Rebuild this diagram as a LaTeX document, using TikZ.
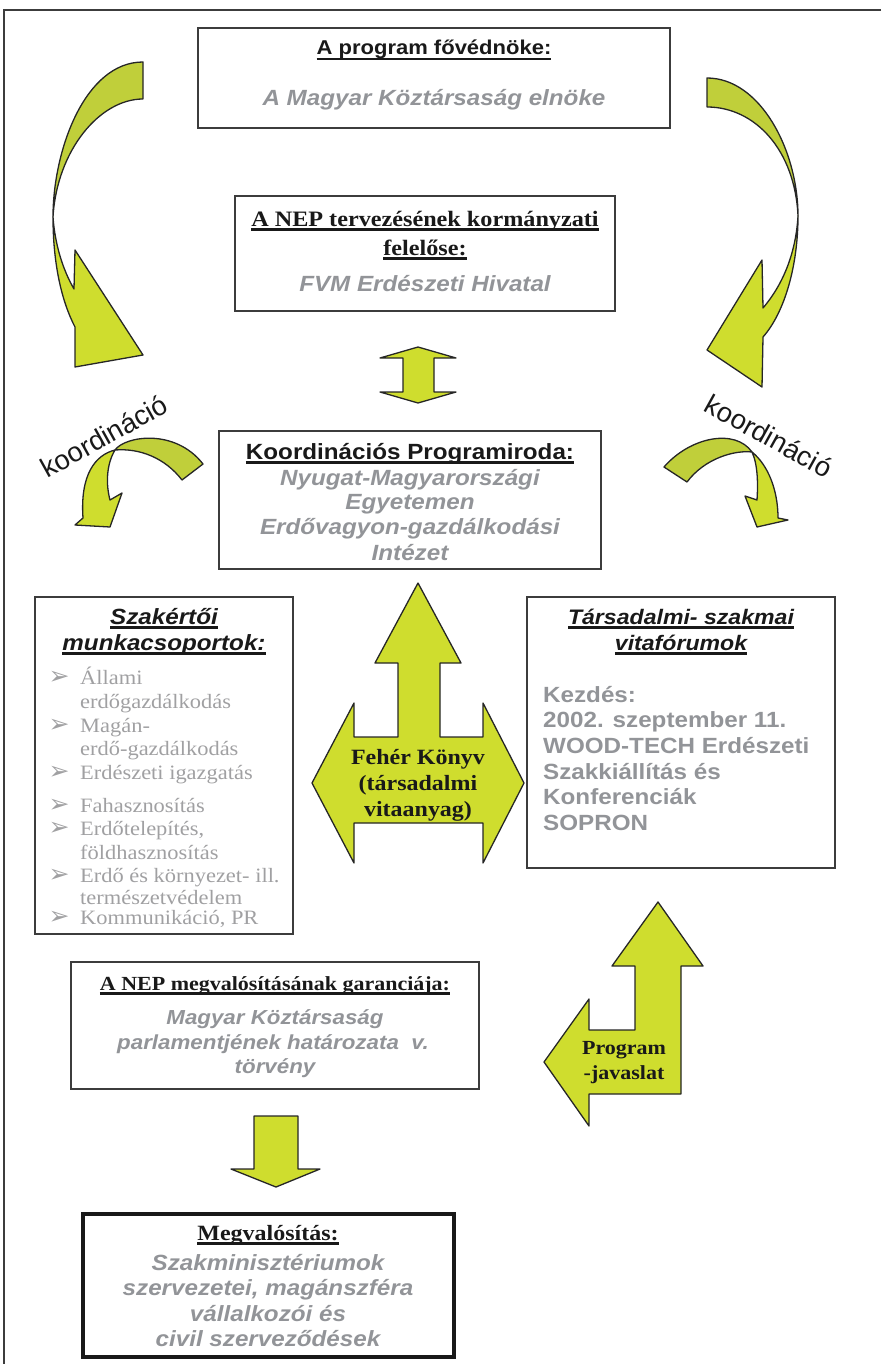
\documentclass[tikz,border=0pt]{standalone}
\usepackage{fontspec}
\setmainfont[FakeStretch=1.1]{Liberation Serif}
\setsansfont[FakeStretch=1.1]{Liberation Sans}
\newfontfamily\dejavu{DejaVu Sans}
\newfontfamily\arialplain{Liberation Sans}
\definecolor{txtgrey}{RGB}{146,148,152}
\definecolor{lstgrey}{RGB}{160,160,162}
\definecolor{boxgrey}{RGB}{60,60,60}
\definecolor{arrlight}{RGB}{207,221,46}
\definecolor{arrdark}{RGB}{192,207,58}
\newcommand{\fsz}[1]{\fontsize{#1}{#1}\selectfont}
\newsavebox{\ulbox}
\newcommand{\myul}[2][2.8pt]{\sbox{\ulbox}{#2}\rlap{\rule[-5pt]{\wd\ulbox}{#1}}\usebox{\ulbox}}
\tikzset{
  box/.style={draw=boxgrey, line width=1.5pt, inner sep=0pt},
  arr/.style={fill=arrlight, draw=black!85, line width=1.3pt, line join=round},
  arrd/.style={fill=arrdark, draw=black!85, line width=1.3pt, line join=round},
  txt/.style={inner sep=0pt, anchor=base},
  sanstitle/.style={txt, text=black!90, font=\sffamily\bfseries\fsz{22}},
  sansital/.style={txt, text=black!90, font=\sffamily\bfseries\itshape\fsz{22}},
  seriftitle/.style={txt, text=black!90, font=\rmfamily\bfseries\fsz{22}},
  greytxt/.style={txt, text=txtgrey, font=\sffamily\bfseries\itshape\fsz{22}},
  lst/.style={inner sep=0pt, anchor=base west, text=lstgrey, font=\rmfamily\fsz{20.4}},
  bul/.style={inner sep=0pt, anchor=base, text=lstgrey, font=\dejavu\fsz{25}},
  kez/.style={inner sep=0pt, anchor=base west, text=txtgrey, font=\sffamily\bfseries\fsz{22}},
  koord/.style={inner sep=0pt, text=black!90, font=\arialplain\fsz{27.5}},
}
\begin{document}
\begin{tikzpicture}[x=1pt,y=-1pt]
\useasboundingbox (0,0) rectangle (881,1364);
\draw[boxgrey, line width=1.4pt] (881,10) -- (4,10) -- (4,1364);

% ---------- boxes ----------
\node[box, minimum width=472pt, minimum height=100pt] (b1) at (434,78) {};
\node[box, minimum width=380pt, minimum height=115pt] (b2) at (425,253.5) {};
\node[box, minimum width=382pt, minimum height=138pt] (b3) at (410,500) {};
\node[box, minimum width=258pt, minimum height=337pt] (b4) at (164,765.5) {};
\node[box, minimum width=308pt, minimum height=271pt] (b5) at (681,732.5) {};
\node[box, minimum width=408pt, minimum height=127pt] (b6) at (275,1025.5) {};
\node[draw=black!90, line width=4pt, inner sep=0pt, minimum width=371pt, minimum height=143pt] (b7) at (268.5,1285.5) {};

% ---------- box 1 ----------
\node[sanstitle, font=\sffamily\bfseries\fsz{20}] (t1a) at (434,55) {\myul[2.4pt]{A program fővédnöke:}};
\node[greytxt] (t1b) at (434,106) {A Magyar Köztársaság elnöke};

% ---------- box 2 ----------
\node[seriftitle] (t2a) at (425,226) {\myul{A NEP tervezésének kormányzati}};
\node[seriftitle] (t2b) at (425,255) {\myul{felelőse:}};
\node[greytxt] (t2c) at (425,291) {FVM Erdészeti Hivatal};

% ---------- box 3 ----------
\node[sanstitle] (t3a) at (410,459) {\myul{Koordinációs Programiroda:}};
\node[greytxt] (t3b) at (410,485) {Nyugat-Magyarországi};
\node[greytxt] (t3c) at (410,509) {Egyetemen};
\node[greytxt] (t3d) at (410,534) {Erdővagyon-gazdálkodási};
\node[greytxt] (t3e) at (410,560) {Intézet};

% ---------- box 4 ----------
\node[sansital] (t4a) at (164,624) {\myul{Szakértői}};
\node[sansital] (t4b) at (164,650) {\myul{munkacsoportok:}};
\node[bul] (u1) at (59,684) {➢};
\node[lst] (l1) at (80,684) {Állami};
\node[lst] (l2) at (80,708) {erdőgazdálkodás};
\node[bul] (u2) at (59,732) {➢};
\node[lst] (l3) at (80,732) {Magán-};
\node[lst] (l4) at (80,755) {erdő-gazdálkodás};
\node[bul] (u3) at (59,779) {➢};
\node[lst] (l5) at (80,779) {Erdészeti igazgatás};
\node[bul] (u4) at (59,812) {➢};
\node[lst] (l6) at (80,812) {Fahasznosítás};
\node[bul] (u5) at (59,835) {➢};
\node[lst] (l7) at (80,835) {Erdőtelepítés,};
\node[lst] (l8) at (80,859) {földhasznosítás};
\node[bul] (u6) at (59,882) {➢};
\node[lst] (l9) at (80,882) {Erdő és környezet- ill.};
\node[lst] (l10) at (80,904) {természetvédelem};
\node[bul] (u7) at (59,924) {➢};
\node[lst] (l11) at (80,924) {Kommunikáció, PR};

% ---------- box 5 ----------
\node[sansital, font=\sffamily\bfseries\itshape\fsz{21}] (t5a) at (681,624) {\myul{Társadalmi- szakmai}};
\node[sansital, font=\sffamily\bfseries\itshape\fsz{21}] (t5b) at (681,650) {\myul{vitafórumok}};
\node[kez] (k1) at (543,702) {Kezdés:};
\node[kez] (k2) at (543,727.7) {2002. szeptember 11.};
\node[kez] (k3) at (543,753.4) {WOOD-TECH Erdészeti};
\node[kez] (k4) at (543,779.1) {Szakkiállítás és};
\node[kez] (k5) at (543,804.8) {Konferenciák};
\node[kez] (k6) at (543,830.5) {SOPRON};

% ---------- box 6 ----------
\node[seriftitle, font=\rmfamily\bfseries\fsz{20}] (t6a) at (275,990) {\myul[3pt]{A NEP megvalósításának garanciája:}};
\node[greytxt, font=\sffamily\bfseries\itshape\fsz{20.3}] (t6b) at (275,1024) {Magyar Köztársaság};
\node[greytxt, font=\sffamily\bfseries\itshape\fsz{20.3}] (t6c) at (273,1049) {parlamentjének határozata\ \ v.};
\node[greytxt, font=\sffamily\bfseries\itshape\fsz{20.3}] (t6d) at (275,1073) {törvény};

% ---------- box 7 ----------
\node[seriftitle, font=\rmfamily\bfseries\fsz{21.8}] (t7a) at (268,1240) {\myul{Megvalósítás:}};
\node[greytxt] (t7b) at (268,1270) {Szakminisztériumok};
\node[greytxt] (t7c) at (268,1295) {szervezetei, magánszféra};
\node[greytxt] (t7d) at (268,1321) {vállalkozói és};
\node[greytxt] (t7e) at (268,1346) {civil szerveződések};

% ---------- big curved arrows ----------
\draw[arrd] (143,62) .. controls (85,62) and (53,150) .. (53,217)
  .. controls (57,150) and (100,99) .. (143,99) -- cycle;
\draw[arr] (53,217) .. controls (53,265) and (62,302) .. (75,327) -- (75,367) -- (143,355) -- (75,250) -- (74,289)
  .. controls (63,270) and (55,245) .. (53,217) -- cycle;

\draw[arrd] (707,78) .. controls (760,78) and (798,150) .. (798,216)
  .. controls (795,150) and (755,107) .. (707,107) -- cycle;
\draw[arr] (798,216) .. controls (798,265) and (785,312) .. (763,337) -- (762,387) -- (707,350) -- (762,260) -- (763,308)
  .. controls (785,282) and (796,250) .. (798,216) -- cycle;

% ---------- small curved arrows ----------
\draw[arrd] (115,450) .. controls (125,436) and (175,428) .. (203,464) -- (182,480)
  .. controls (165,458) and (140,448) .. (115,450) -- cycle;
\draw[arr] (115,450) .. controls (95,455) and (80,475) .. (83,518) -- (75,525) -- (110,527) -- (122,493) -- (110,500)
  .. controls (106,485) and (106,465) .. (115,450) -- cycle;

\draw[arrd] (664,467) .. controls (690,437) and (735,428) .. (752,452)
  .. controls (735,450) and (705,458) .. (687,482) -- cycle;
\draw[arr] (752,452) .. controls (768,465) and (778,490) .. (778,518) -- (788,520) -- (757,527) -- (745,496) -- (757,500)
  .. controls (758,485) and (758,465) .. (752,452) -- cycle;

\node[koord, rotate=29] (ko1) at (104,436) {koordináció};
\node[koord, rotate=-29] (ko2) at (769,436) {koordináció};

% ---------- straight arrows ----------
\draw[arr] (418,347) -- (456,358) -- (434,358) -- (434,392) -- (456,392) -- (418,403)
  -- (380,392) -- (403,392) -- (403,358) -- (380,358) -- cycle;

\draw[arr] (418,583) -- (461,663) -- (440,663) -- (440,737) -- (483,737) -- (483,703) -- (524,783)
  -- (483,863) -- (483,823) -- (354,823) -- (354,863) -- (312,783) -- (354,703) -- (354,737)
  -- (398,737) -- (398,663) -- (375,663) -- cycle;
\node[seriftitle, font=\rmfamily\bfseries\fsz{21.8}] (f1) at (418,764) {Fehér Könyv};
\node[seriftitle, font=\rmfamily\bfseries\fsz{21.8}] (f2) at (418,790) {(társadalmi};
\node[seriftitle, font=\rmfamily\bfseries\fsz{21.8}] (f3) at (418,816) {vitaanyag)};

\draw[arr] (658,902) -- (703,966) -- (681,966) -- (681,1094) -- (589,1094) -- (589,1126) -- (544,1062)
  -- (589,999) -- (589,1030) -- (635,1030) -- (635,966) -- (612,966) -- cycle;
\node[seriftitle, font=\rmfamily\bfseries\fsz{20}] (p1) at (624,1054) {Program};
\node[seriftitle, font=\rmfamily\bfseries\fsz{20}] (p2) at (624,1079) {-javaslat};

\draw[arr] (254,1116) -- (298,1116) -- (298,1169) -- (320,1169) -- (276,1187) -- (231,1169) -- (254,1169) -- cycle;
\end{tikzpicture}
\end{document}
